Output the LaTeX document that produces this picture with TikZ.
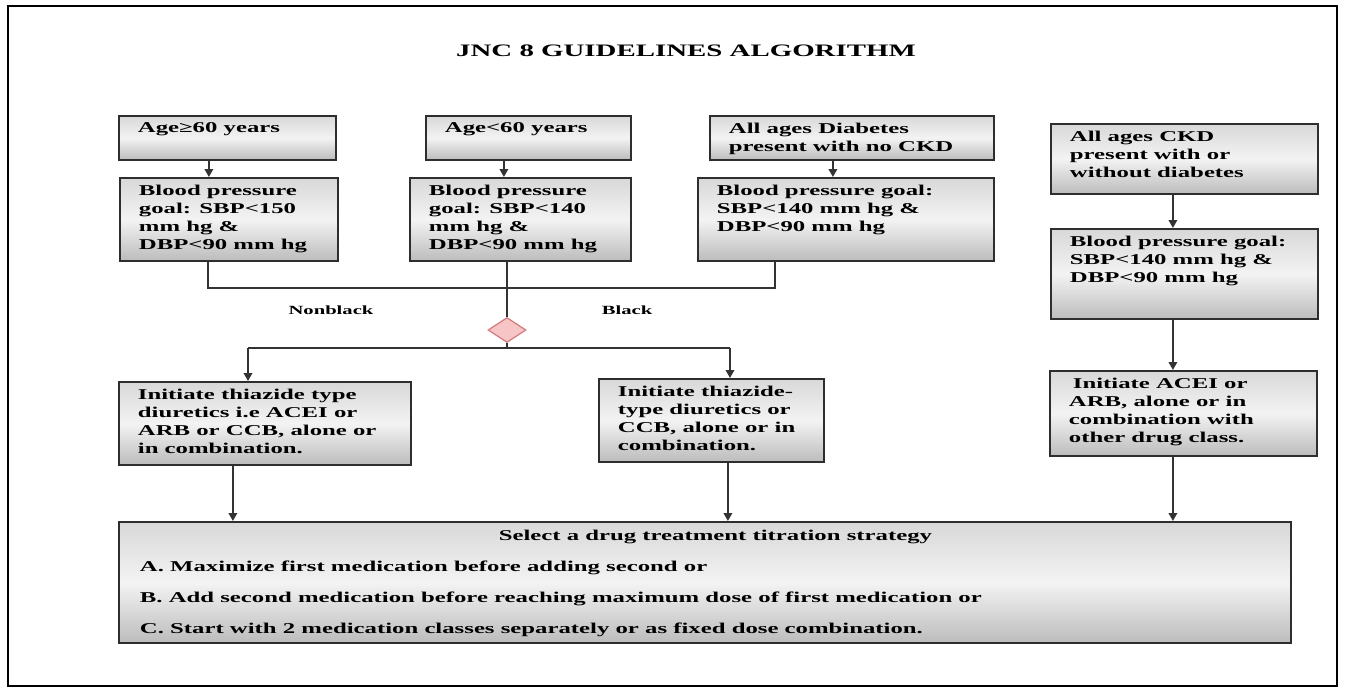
\documentclass[tikz,border=0pt]{standalone}
\usepackage{fontspec}
\setmainfont{Liberation Serif}[FakeStretch=1.65]
\usetikzlibrary{arrows.meta}
\usetikzlibrary{shapes.geometric}
\definecolor{color_jnc_edge}{HTML}{2E2E2E}
\definecolor{color_jnc_line}{HTML}{333333}
\definecolor{color_jnc_top}{HTML}{D8D8D8}
\definecolor{color_jnc_mid}{HTML}{F3F3F3}
\definecolor{color_jnc_bottom}{HTML}{BCBCBC}
\definecolor{color_jnc_diamond}{HTML}{F7C5C6}
\definecolor{color_jnc_diamond_edge}{HTML}{D47A7E}
\def\jnclinewidth{1.8pt}
\def\jncboxtoppad{7pt}
\def\jncboxleftpad{19pt}
\def\jncboxfont{\fontsize{15}{18}\selectfont\bfseries}
\def\jncboxtext{\vspace*{\jncboxtoppad}\jncboxfont\raggedright\leftskip=\jncboxleftpad\relax}
\long\def\jncbox[#1](#2,#3,#4,#5)#6{
    \node[jnc_box,anchor=north west] (#1) at (#2,#3)
        {\parbox[c][\dimexpr#5pt-#3pt\relax][t]{\dimexpr#4pt-#2pt\relax}{#6}};
}

\begin{document}
\begin{tikzpicture}[x=1pt,y=-1pt,
        jnc_box/.style={draw=color_jnc_edge,line width=\jnclinewidth,inner sep=0pt,
            top color=color_jnc_top,bottom color=color_jnc_bottom,middle color=color_jnc_mid},
        conn/.style={draw=color_jnc_line,line width=\jnclinewidth},
        arr/.style={conn,-{Triangle[length=8pt,width=8.5pt]}},
        branch/.style={font=\fontsize{12.5}{14}\selectfont\bfseries,anchor=base}]
        \useasboundingbox (0,0) rectangle (1346,688);
        \draw[line width=2.2pt] (8,6) rectangle (1337,686);
        \node[font=\fontsize{17.5}{20}\selectfont\bfseries,anchor=base] (title) at (686,56) {JNC 8 GUIDELINES ALGORITHM};
        % patient groups and goals
        \jncbox[a1](118,115,335,159){\jncboxtext Age≥60 years}
        \jncbox[a2](119,177,337,260){\jncboxtext Blood pressure\\goal: SBP<150\\mm hg \&\\DBP<90 mm hg}
        \jncbox[b1](425,115,630,159){\jncboxtext Age<60 years}
        \jncbox[b2](409,177,630,260){\jncboxtext Blood pressure\\goal: SBP<140\\mm hg \&\\DBP<90 mm hg}
        \jncbox[c1](709,115,993,159){\jncboxtext All ages Diabetes\\present with no CKD}
        \jncbox[c2](697,177,993,260){\jncboxtext Blood pressure goal:\\SBP<140 mm hg \&\\DBP<90 mm hg}
        \jncbox[d1](1050,123,1317,193){\jncboxtext All ages CKD\\present with or\\without diabetes}
        \jncbox[d2](1050,228,1317,318){\jncboxtext Blood pressure goal:\\SBP<140 mm hg \&\\DBP<90 mm hg}
        \jncbox[d3](1049,370,1316,455){\jncboxtext \hspace*{4pt}Initiate ACEI or\\ARB, alone or in\\combination with\\other drug class.}
        % drug choice
        \jncbox[e1](118,381,410,464){\jncboxtext Initiate thiazide type\\diuretics i.e ACEI or\\ARB or CCB, alone or\\in combination.}
        \jncbox[e2](598,378,823,461){\jncboxtext Initiate thiazide-\\type diuretics or\\CCB, alone or in\\combination.}
        \jncbox[f](118,521,1290,642){\vspace*{8pt}\fontsize{15}{31}\selectfont\bfseries
            {\centering\leftskip=21pt plus 1fil Select a drug treatment titration strategy\par}
            \raggedright\leftskip=21pt
            A. Maximize first medication before adding second or\\
            B. Add second medication before reaching maximum dose of first medication or\\
            C. Start with 2 medication classes separately or as fixed dose combination.}
        \node[diamond,aspect=1.5,minimum width=38pt,minimum height=25pt,inner sep=0pt,line width=1.2pt,
            draw=color_jnc_diamond_edge,fill=color_jnc_diamond] (dm) at (507,330) {};
        \node[branch] (nb) at (331,314) {Nonblack};
        \node[branch] (bk) at (627,314) {Black};
        % the joins
        \coordinate (jl) at (208,288);
        \coordinate (jr) at (775,288);
        \coordinate (sl) at (248,348);
        \coordinate (sr) at (730,348);
        \draw[arr] ([xshift=-18.5pt]a1.south) -- ([xshift=-18.5pt]a1.south |- a2.north);
        \draw[arr] ([xshift=-24.5pt]b1.south) -- ([xshift=-24.5pt]b1.south |- b2.north);
        \draw[arr] ([xshift=-19pt]c1.south) -- ([xshift=-19pt]c1.south |- c2.north);
        \draw[arr] ([xshift=-11.5pt]d1.south) -- ([xshift=-11.5pt]d1.south |- d2.north);
        \draw[arr] ([xshift=-11.5pt]d2.south) -- ([xshift=-11.5pt]d2.south |- d3.north);
        \draw[conn] (a2.south -| jl) -- (jl) -- (jr) -- (c2.south -| jr);
        \draw[conn] (b2.south -| dm.north) -- (dm.north);
        \draw[conn] (dm.south) -- (dm.south |- sl);
        \draw[conn] (sl) -- (sr);
        \draw[arr] (sl) -- (e1.north -| sl);
        \draw[arr] (sr) -- (e2.north -| sr);
        \draw[arr] ([xshift=-32pt]e1.south) -- ([xshift=-32pt]e1.south |- f.north);
        \draw[arr] ([xshift=16.5pt]e2.south) -- ([xshift=16.5pt]e2.south |- f.north);
        \draw[arr] ([xshift=-10.5pt]d3.south) -- ([xshift=-10.5pt]d3.south |- f.north);
\end{tikzpicture}
\end{document}
